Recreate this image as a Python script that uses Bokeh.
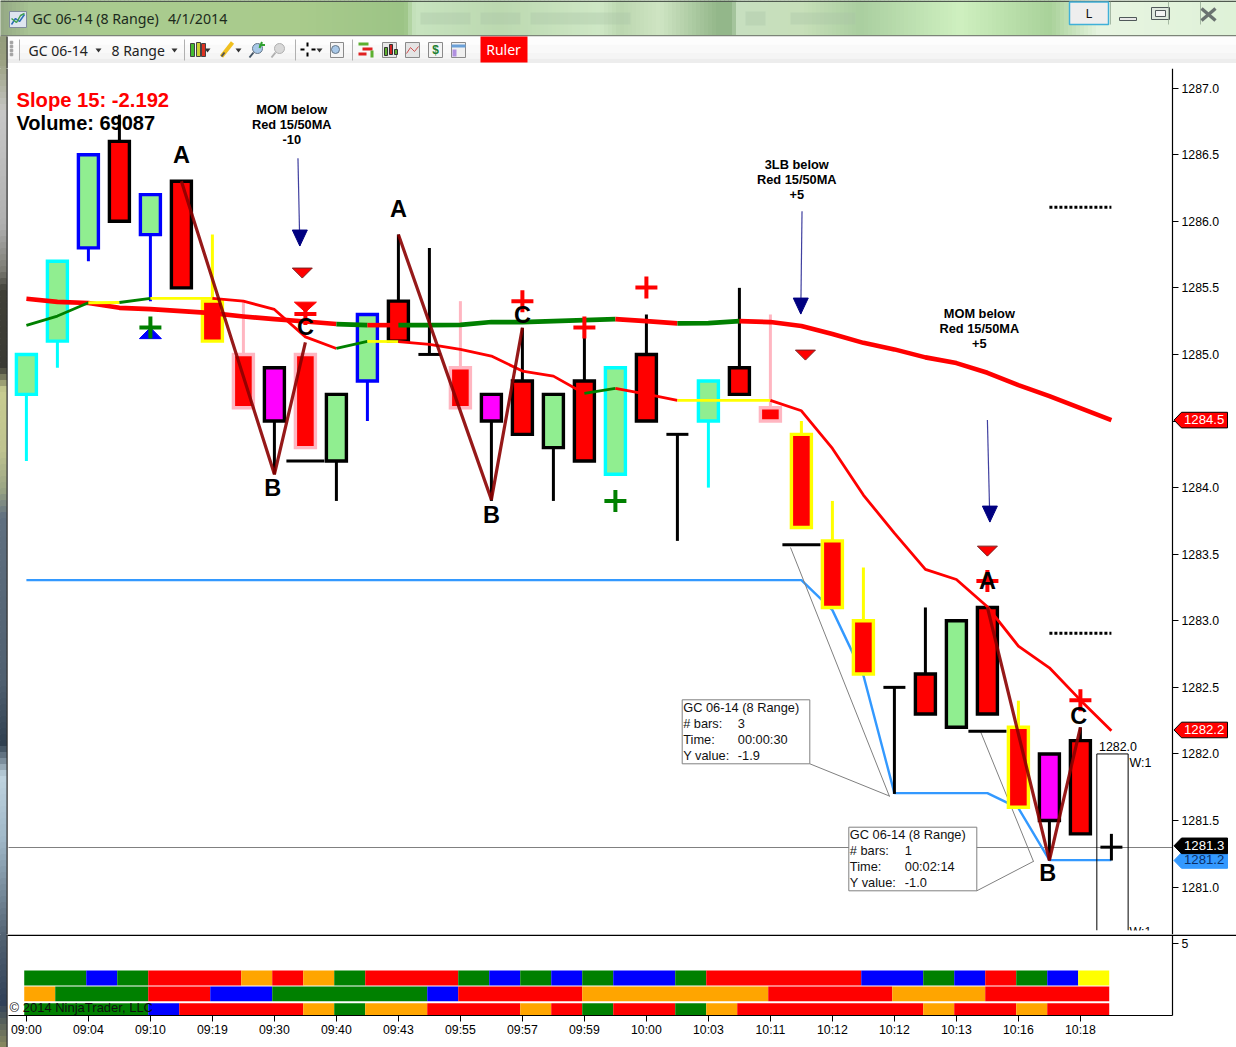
from bokeh.plotting import figure
from bokeh.layouts import column
from bokeh.embed import file_html
from bokeh.resources import INLINE
from bokeh.core.properties import value
from bokeh.models import Range1d, LinearAxis, FixedTicker, PrintfTickFormatter
import numpy as np

# ---------- data ----------
opens = [1284.7,1285.1,1285.8,1286.6,1285.9,1286.3,1285.4,1285.0,1284.9,1285.0,1284.2,1284.8,1285.4,1285.0,1284.9,1284.7,1284.8,1284.3,1284.8,1284.1,1285.0,1284.4,1284.5,1284.9,1284.6,1284.4,1283.6,1283.0,1282.5,1282.6,1282.2,1283.1,1282.2,1282.0,1282.1,1281.3]
closes = [1285.0,1285.7,1286.5,1286.0,1286.2,1285.5,1285.1,1284.6,1284.5,1284.3,1284.7,1285.3,1285.1,1285.0,1284.6,1284.5,1284.4,1284.7,1284.2,1284.9,1284.5,1284.4,1284.8,1284.7,1284.5,1283.7,1283.1,1282.6,1282.5,1282.3,1283.0,1282.3,1281.6,1281.5,1281.4,1281.3]
highs = [1285.0,1285.7,1286.5,1286.8,1286.2,1286.3,1285.9,1285.4,1284.9,1285.0,1284.7,1285.3,1285.9,1285.8,1285.4,1284.7,1285.2,1284.7,1285.2,1284.9,1285.3,1284.4,1284.8,1285.5,1285.3,1284.5,1283.9,1283.4,1282.5,1283.1,1283.0,1283.1,1282.4,1282.0,1282.2,1281.4]
lows = [1284.2,1284.9,1285.7,1286.0,1285.4,1285.5,1285.1,1284.6,1284.1,1284.3,1283.9,1284.5,1285.1,1285.0,1284.6,1283.9,1284.4,1283.9,1284.2,1284.1,1284.5,1283.6,1284.0,1284.7,1284.5,1283.7,1283.1,1282.6,1281.7,1282.3,1282.2,1282.3,1281.6,1281.2,1281.4,1281.2]
body_kinds = list("GGGRGRRRMRGGRRRMRGRGRRGRRRRRRRGRRMRR")
edge_kinds = list("ccbkbkypkpkbkkpkkkkckkckpyyykkkkykkk")

ma50 = [1285.418,1285.395,1285.386,1285.35,1285.34,1285.325,1285.31,1285.285,1285.265,1285.247,1285.228,1285.22,1285.22,1285.22,1285.222,1285.243,1285.243,1285.25,1285.258,1285.265,1285.25,1285.233,1285.235,1285.25,1285.243,1285.213,1285.153,1285.087,1285.038,1284.978,1284.935,1284.862,1284.77,1284.687,1284.597,1284.507]
ma50_kinds = list("RRRRRRRRRRGRGGGGGGGRRGGRRRRRRRRRRRR")
ma15 = [1285.218,1285.288,1285.388,1285.39,1285.421,1285.421,1285.421,1285.4,1285.338,1285.132,1285.045,1285.098,1285.096,1285.075,1285.038,1284.988,1284.875,1284.837,1284.707,1284.745,1284.702,1284.655,1284.655,1284.655,1284.655,1284.577,1284.294,1283.944,1283.658,1283.386,1283.31,1283.105,1282.81,1282.647,1282.404,1282.174]
ma15_kinds = list("GGYGYYRRRRGYRRRRRRGRRYYYRRRRRRRRRRR")
blue_idx = [0,25,26,27,28,31,32,33,35]
blue_val = [1283.305,1283.305,1283.08,1282.59,1281.706,1281.706,1281.593,1281.203,1281.203]

zz_idx = [[5,8,9],[12,15,16],[31,33,34]]
zz_val = [[1286.30,1284.10,1285.09],[1285.9,1283.91,1285.2],[1283.1,1281.2,1282.2]]

letters = ["A","B","C","A","B","C","A","B","C"]
letter_idx = [5,7.95,9,12,15,16,31,32.95,33.95]
letter_val = [1286.497,1283.996,1285.205,1286.091,1283.794,1285.295,1283.298,1281.105,1282.284]

red_cross_idx = [9,16,18,20,31,34]
red_cross_val = [1285.303,1285.4,1285.203,1285.503,1283.298,1282.404]
green_cross_idx = [4,19]
green_cross_val = [1285.203,1283.899]
red_tri_idx = [8.9,25.13,31]
red_tri_val = [1285.611,1284.995,1283.523]
red_big_tri_idx = [9]
red_big_tri_val = [1285.355]
blue_tri_idx = [4]
blue_tri_val = [1285.16]
arrow_x0 = [8.76,25.02,31.0]
arrow_y0 = [1286.474,1286.076,1284.507]
arrow_x1 = [8.82,24.98,31.08]
arrow_y1 = [1285.814,1285.303,1283.741]
dotted_val = [1286.106,1282.907]
ruler_tick_idx = [9,25,31]
ruler_tick_val = [1284.2,1283.57,1282.17]
notes = [["MOM below","Red 15/50MA","-10"],["3LB below","Red 15/50MA","+5"],["MOM below","Red 15/50MA","+5"]]
note_idx = [8.56,24.85,30.74]
note_val = [1286.84,1286.43,1285.31]

row1 = list("GGBGRRRORO") + list("GRRRGBGBGBB") + list("GRRRRRBBGBRGBY")
row2 = list("OGGGRRBBGGGGGBRRRROOOOOORRRROOORRRR")
row3 = list("GGGGBRRRROGOORRRORGRRGORRRRRRORRORR")
tick_labels = ["09:00","09:04","09:10","09:19","09:30","09:40","09:43","09:55","09:57","09:59","10:00","10:03","10:11","10:12","10:12","10:13","10:16","10:18"]
price_ticks = [1281.0,1281.5,1282.0,1282.5,1283.0,1283.5,1284.0,1284.5,1285.0,1285.5,1286.0,1286.5,1287.0]
tag_values = [1284.507,1282.18,1281.2,1281.31]
tag_labels = ["1284.5","1282.2","1281.2","1281.3"]
tag_fills = ["#ff0000","#ff0000","#3399ff","#000000"]
tag_edges = ["#000000","#000000","#3399ff","#000000"]
tag_texts = ["white","white","#0b2f66","white"]

# ---------- styles ----------
FONT = "Liberation Sans"
BODY = {"G":"#90ee90","R":"#ff0000","M":"#ff00ff"}
EDGE = {"c":"#00ffff","b":"#0000ff","k":"#000000","y":"#ffff00","p":"#ffb6c1"}
LINE = {"R":"#ff0000","G":"#008000","Y":"#ffff00"}
CELL = {"G":"#008000","B":"#0000ff","R":"#ff0000","O":"#ffa500","Y":"#ffff00"}
PPU = 133.17   # pixels per price unit
BAR = 31.0     # pixels per bar
X0 = 25.9      # page x of bar 0
Y0 = 87.6      # page y of price 1287

def xpx(x):  # page pixel to bar index (layout of callouts)
    return (x - X0) / BAR
def ypx(y):  # page pixel to price (layout of callouts)
    return 1287.0 - (y - Y0) / PPU

def txt(p, x, y, t, size, color="black", style="normal", align="left", font=FONT, level="glyph"):
    return p.text(x=[x], y=[y], text=[t], text_font=value(font), text_font_size=f"{size}px",
                  text_color=color, text_font_style=style, text_align=align,
                  text_baseline="middle", level=level)

def tri(p, xs, ys, w, h, color, up=False, line=None):
    xx, yy = [], []
    for a, b in zip(xs, ys):
        dx = w / 2 / BAR
        dy = h / 2 / PPU
        s = 1 if up else -1
        xx.append([a - dx, a + dx, a])
        yy.append([b - s * dy, b - s * dy, b + s * dy])
    p.patches(xx, yy, fill_color=color, line_color=line or color, line_width=1)

def runs(xs, ys, kinds):
    xx, yy, cc = [], [], []
    i = 0
    while i < len(kinds):
        j = i
        while j + 1 < len(kinds) and kinds[j + 1] == kinds[i]:
            j += 1
        xx.append(xs[i:j + 2]); yy.append(ys[i:j + 2]); cc.append(LINE[kinds[i]])
        i = j + 1
    return xx, yy, cc

def cell_runs(row):
    out = []
    i = 0
    while i < len(row):
        j = i
        while j + 1 < len(row) and row[j + 1] == row[i]:
            j += 1
        out.append((i, j + 1, CELL[row[i]]))
        i = j + 1
    return out

STRIP = [(0,"#8a9878"),(60,"#9aa080"),(114,"#c8c8c8"),(225,"#b0b0b0"),(270,"#7c7c74"),(290,"#404038"),(367,"#3a3a34"),(390,"#c8cc90"),(450,"#c0c490"),(490,"#9aa484"),(517,"#607080"),(680,"#506070"),(744,"#304050"),(776,"#c0d4e0"),(840,"#a0b8c8"),(940,"#506070"),(1003,"#304058"),(1047,"#8a8a60")]
def hexrgb(h):
    return np.array([int(h[i:i+2],16) for i in (1,3,5)],float)
def ramp(stops, a, b, step):
    pos = [s[0] for s in stops]
    rgb = np.array([hexrgb(s[1]) for s in stops])
    edges = np.arange(a, b, step)
    out = []
    for e in edges:
        c = [int(np.interp(e + step/2, pos, rgb[:,k])) for k in range(3)]
        out.append((e, e + step, "#%02x%02x%02x" % tuple(c)))
    return out
def left_strip(p, a, b, tx, ty):
    seg = ramp(STRIP, a, b, 6)
    p.quad(left=[tx(0)]*len(seg), right=[tx(6)]*len(seg),
           top=[ty(s[0]) for s in seg], bottom=[ty(s[1]) for s in seg],
           fill_color=[s[2] for s in seg], line_color=[s[2] for s in seg], level="overlay")
    p.quad(left=[tx(6)], right=[tx(7.2)], top=[ty(a)], bottom=[ty(b)],
           fill_color="#2a2a2a", line_color=None, level="overlay")

def base(p):
    p.grid.visible = False
    p.outline_line_color = None
    p.background_fill_color = "white"
    p.border_fill_color = "white"
    return p

def style_axis(a):
    a.major_tick_line_color = "black"; a.major_tick_out = 6; a.major_tick_in = 0
    a.minor_tick_line_color = None; a.axis_line_color = "black"; a.axis_line_width = 1.2
    a.major_label_text_font = FONT; a.major_label_text_font_size = "12.3px"; a.major_label_text_color = "black"

# ---------- window chrome ----------
ch = base(figure(frame_width=1236, frame_height=68, min_border=0, toolbar_location=None, output_backend="svg",
                 x_range=Range1d(0,1236), y_range=Range1d(68,0)))
ch.xaxis.visible = False
ch.yaxis.visible = False
TITLE = [(0,"#94a884"),(30,"#a8c494"),(100,"#aacb90"),(300,"#a9cb8c"),(405,"#9cc486"),(415,"#c8e4c0"),(500,"#bcd9b0"),(600,"#cfe8c6"),(620,"#bcd7b0"),(660,"#cfe5c3"),(718,"#93b78a"),(732,"#93b78a"),(738,"#c7dfc0"),(800,"#c8e0ba"),(860,"#aacfa0"),(960,"#cff0c0"),(1050,"#a9d29a"),(1100,"#e8f5e2"),(1236,"#dff2d8")]
seg = ramp(TITLE, 0, 1236, 4)
ch.quad(left=[s[0] for s in seg], right=[s[1] for s in seg], top=[0]*len(seg), bottom=[35]*len(seg),
        fill_color=[s[2] for s in seg], line_color=[s[2] for s in seg])
ch.quad(left=[0], right=[1236], top=[0], bottom=[1.5], fill_color="#505a50", line_color=None)
ch.quad(left=[420,480,530,745,790], right=[470,520,630,765,855], top=[12,12,12,11,12], bottom=[24,24,24,25,24],
        fill_color="#a9c4a6", line_color=None, fill_alpha=0.35)
ch.quad(left=[0], right=[1236], top=[34.5], bottom=[36], fill_color="#7c8478", line_color=None)
for a, b, c in [(36,44,"#fdfdfd"),(44,52,"#f9f9f9"),(52,58,"#f5f5f5"),(58,62.5,"#ededed")]:
    ch.quad(left=[6], right=[1236], top=[a], bottom=[b], fill_color=c, line_color=None)
# title icon and captions
ch.quad(left=[9], right=[26], top=[11], bottom=[27], fill_color="#dfe6f0", line_color="#7f8c9c")
ch.line([11,15,19,24],[24,18,21,14], line_color="#2e6fb8", line_width=1.5)
ch.line([11,16,20,24],[18,22,15,13], line_color="#3f9f4f", line_width=1.5)
txt(ch, 32, 18, "GC 06-14 (8 Range)", 14.2, "#1c2a1c", font="Noto Sans")
txt(ch, 167.5, 18, "4/1/2014", 14.2, "#1c2a1c", font="Noto Sans")
# caption buttons
ch.quad(left=[1069], right=[1108], top=[1.5], bottom=[24], fill_color="#eeeeee", line_color="#40b0d8", line_width=1.5)
txt(ch, 1088.5, 12, "L", 13, "#111111", align="center", font="Noto Sans")
ch.quad(left=[1119], right=[1136], top=[17], bottom=[20], fill_color="#e8e8e8", line_color="#50585a")
ch.quad(left=[1151], right=[1169], top=[7], bottom=[19], fill_color="#dfe8df", line_color="#50585a")
ch.quad(left=[1155], right=[1165], top=[10], bottom=[16], fill_color="#f2f2f2", line_color="#50585a")
ch.segment([1201,1201],[8,20],[1215,1215],[20,8], line_color="#6a7270", line_width=3.4)
ch.segment([1110,1168,1200],[1,1,1],[1110,1168,1200],[24,24,24], line_color="#8aa08a", line_width=1, line_alpha=0.7)
# toolbar
ch.scatter(x=[11,11,11,11], y=[42,46,50,54], marker="square", size=2.5, color="#a0a0a0")
ch.segment([19,184,295,352],[39]*4,[19,184,295,352],[60]*4, line_color="#b0b0b0", line_width=1)
txt(ch, 28, 49.5, "GC 06-14", 14, "#222222", font="Noto Sans")
txt(ch, 111, 49.5, "8 Range", 14, "#222222", font="Noto Sans")
drop_x = [98,174,207,238,319]
ch.patches([[a-3,a+3,a] for a in drop_x], [[48,48,52]]*5, fill_color="#333333", line_color=None)
ch.quad(left=[190,196,201], right=[194,200,205], top=[43,42,43], bottom=[56,56,56],
        fill_color=["#44bb33","#ccd033","#dd3322"], line_color="#444444")
ch.segment([221],[56],[232],[42], line_color="#f0c020", line_width=4)
ch.segment([221],[56],[224],[52], line_color="#555555", line_width=2)
ch.scatter(x=[257,279], y=[48,48], marker="circle", size=10, fill_color=["#a8c8e8","#d8d8d8"], line_color=["#667788","#b0b0b0"])
ch.segment([249,271],[57,57],[253,275],[52,52], line_color=["#445566","#b0b0b0"], line_width=2)
ch.segment([259,259],[44.5,47.5],[264.5,261.5],[44.5,41.5], line_color="#30a030", line_width=2)
ch.segment([300,307,307,311],[49,42,52,49],[304,307,307,315],[49,46,56,49], line_color="black", line_width=2)
for a, c in [(336,"#f4f4f4"),(389,"#e8e8e8"),(412,"#e4e4e4"),(435,"#f4f4f4"),(458,"#f0f0f0")]:
    ch.quad(left=[a-7 if a!=336 else a-6], right=[a+7 if a!=336 else a+7], top=[42], bottom=[57], fill_color=c, line_color="#8a8a8a")
ch.scatter(x=[335], y=[49], marker="circle", size=8, fill_color="#a8c8e8", line_color="#667788")
ch.quad(left=[358,362,358], right=[368,372,366], top=[42,47,52], bottom=[45,50,55], fill_color=["#5cb030","#e02020","#e02020"], line_color=None)
ch.quad(left=[370], right=[373], top=[50], bottom=[57], fill_color="#5cb030", line_color=None)
ch.quad(left=[384,389,394], right=[387,392,397], top=[47,44,49], bottom=[55,54,54], fill_color=["#5cb030","#d02020","#5cb030"], line_color="#333333")
ch.line([406,410,414,418],[53,47,51,46], line_color="#d05050", line_width=1)
ch.quad(left=[451], right=[465], top=[44], bottom=[47], fill_color="#6aa0d8", line_color=None)
ch.quad(left=[452], right=[456], top=[49], bottom=[56], fill_color="#b090e0", line_color=None)
txt(ch, 435, 49.5, "$", 12, "#208030", "bold", "center")
ch.quad(left=[480], right=[527], top=[36], bottom=[62], fill_color="#ff0000", line_color=None)
txt(ch, 503, 49, "Ruler", 14, "white", align="center", font="Noto Sans")
left_strip(ch, 36, 68, lambda v: v, lambda v: v)

# ---------- price panel ----------
p = base(figure(frame_width=1236, frame_height=866, min_border=0,
                toolbar_location=None, output_backend="svg",
                x_range=Range1d(xpx(0), xpx(1236)), y_range=Range1d(ypx(934), ypx(68))))
p.xaxis.visible = False
p.yaxis.visible = False
ax = LinearAxis(ticker=FixedTicker(ticks=price_ticks), formatter=PrintfTickFormatter(format="%.1f"),
                fixed_location=xpx(1172))
style_axis(ax)
ax.major_label_standoff = 3
p.add_layout(ax, "right")

n = len(opens)
idx = list(range(n))

txt(p, xpx(16), ypx(99.5), "Slope 15: -2.192", 20.2, "#ff0000", "bold")
txt(p, xpx(16), ypx(122.5), "Volume: 69087", 20, "black", "bold")

# crosshair, blue line, ruler outlines
p.segment([xpx(8)],[ypx(847)],[xpx(1172)],[ypx(847)], line_color="#808080", line_width=1)
p.line(blue_idx, blue_val, line_color="#3399ff", line_width=2.4)
p.segment([xpx(790),xpx(980)],[ypx(547),ypx(731)],[xpx(889),xpx(1033)],[ypx(796),ypx(861)], line_color="#808080", line_width=1)
p.segment([34.53,35.54,34.53],[1282.0,1282.0,1282.0],[34.53,35.54,35.54],[ypx(930),ypx(930),1282.0], line_color="black", line_width=1)

# bars
p.segment(idx, highs, idx, lows, line_color=[EDGE[k] for k in edge_kinds], line_width=3)
solid = [i for i in idx if opens[i] != closes[i]]
p.vbar(x=solid, width=20/BAR, top=[max(opens[i],closes[i]) for i in solid], bottom=[min(opens[i],closes[i]) for i in solid],
       fill_color=[BODY[body_kinds[i]] for i in solid], line_color=[EDGE[edge_kinds[i]] for i in solid], line_width=3.4, line_join="miter")
dojis = [i for i in idx if opens[i] == closes[i]]
hw = 11 / BAR
p.segment([i-hw for i in dojis],[opens[i] for i in dojis],[i+hw for i in dojis],[opens[i] for i in dojis], line_color="black", line_width=3)
rw = 19 / BAR
p.segment([i-rw for i in ruler_tick_idx], ruler_tick_val, [i+rw for i in ruler_tick_idx], ruler_tick_val, line_color="black", line_width=3)

# moving averages
xx, yy, cc = runs(idx, ma50, ma50_kinds)
p.multi_line(xx, yy, line_color=cc, line_width=4.6, line_join="round")
xx, yy, cc = runs(idx, ma15, ma15_kinds)
p.multi_line(xx, yy, line_color=cc, line_width=2.8, line_join="round")

# markers
tri(p, red_tri_idx, red_tri_val, 20, 10, "#ff0000", line="#7a2020")
tri(p, red_big_tri_idx, red_big_tri_val, 22, 10, "#ff0000")
tri(p, blue_tri_idx, blue_tri_val, 22, 11, "#0000ff", up=True)
p.scatter(red_cross_idx, red_cross_val, marker="cross", size=22, line_color="#ff0000", line_width=4)
p.scatter(green_cross_idx, green_cross_val, marker="cross", size=22, line_color="#008000", line_width=4)
p.segment(arrow_x0, arrow_y0, arrow_x1, arrow_y1, line_color="#000080", line_width=1.2, line_alpha=0.75)
tri(p, arrow_x1, [v + 8/PPU for v in arrow_y1], 15, 16, "#000080")

# zigzag
p.multi_line(zz_idx, zz_val, line_color="#8b0000", line_width=3.2, line_alpha=0.9)

# letters
for t, a, b in zip(letters, letter_idx, letter_val):
    txt(p, a, b, t, 23.5, "black", "bold", "center")

# notes
for lines, a, b in zip(notes, note_idx, note_val):
    for k, t in enumerate(lines):
        txt(p, a, b - k * 15 / PPU, t, 12.8, "black", "bold", "center")

# dotted levels
p.multi_line([[33,35]]*2, [[v,v] for v in dotted_val], line_color="black", line_width=3, line_dash="3 2")

# ruler labels
txt(p, xpx(1098.5), ypx(746), "1282.0", 12.4)
txt(p, xpx(1129), ypx(762), "W:1", 12.4)
txt(p, xpx(1129), ypx(931.3), "W:1", 12.4)
p.quad(left=[xpx(1090)], right=[xpx(1171)], top=[ypx(930)], bottom=[ypx(934)], fill_color="white", line_color=None)

# tooltips
for bx0, bx1, by0, by1, lead, rows, col2 in [
    (681.7, 809.3, 699.3, 763.3, (809.3,763.3,889.3,795.7), [("GC 06-14 (8 Range)",""),("# bars:","3"),("Time:","00:00:30"),("Y value:","-1.9")], 737.3),
    (848.3, 976.3, 826.7, 890.3, (976.3,890.3,1033.3,860.7), [("GC 06-14 (8 Range)",""),("# bars:","1"),("Time:","00:02:14"),("Y value:","-1.0")], 904.3)]:
    p.quad(left=[xpx(bx0)], right=[xpx(bx1)], top=[ypx(by0)], bottom=[ypx(by1)], fill_color="white", line_color="#808080", line_width=1)
    p.segment([xpx(lead[0])],[ypx(lead[1])],[xpx(lead[2])],[ypx(lead[3])], line_color="#808080", line_width=1)
    for k, (a, b) in enumerate(rows):
        y = by0 + 7.3 + k * 16
        txt(p, xpx(bx0 + 1), ypx(y), a, 12.8, "#111111")
        if b:
            txt(p, xpx(col2), ypx(y), b, 12.8, "#111111")

left_strip(p, 68, 934, xpx, ypx)

# price tags at the axis
h = 7.8 / PPU
for val, lab, fill, edge, tc in zip(tag_values, tag_labels, tag_fills, tag_edges, tag_texts):
    p.patch([xpx(1173.5),xpx(1181),xpx(1227),xpx(1227),xpx(1181)],
            [val, val+h, val+h, val-h, val-h],
            fill_color=fill, line_color=edge, line_width=1, level="overlay")
    txt(p, xpx(1183.5), val + 0.5/PPU, lab, 13.2, tc, level="overlay")

# ---------- lower panel ----------
SCALE5 = 14.4  # pixels per unit of the lower scale
q = base(figure(frame_width=1236, frame_height=113, min_border=0,
                toolbar_location=None, output_backend="svg",
                x_range=Range1d(xpx(0), xpx(1236)), y_range=Range1d(-32/SCALE5, 81/SCALE5)))
q.yaxis.visible = False
q.xaxis.visible = False
bx = LinearAxis(ticker=FixedTicker(ticks=list(range(0,35,2))),
                major_label_overrides={i*2: t for i, t in enumerate(tick_labels)},
                bounds=(xpx(8), xpx(1172)), fixed_location=0)
style_axis(bx)
bx.major_label_standoff = 1
q.add_layout(bx, "below")
ay = LinearAxis(ticker=FixedTicker(ticks=[5]), major_label_overrides={5: "5"}, fixed_location=xpx(1172),
                bounds=(0, 81/SCALE5))
style_axis(ay)
ay.major_label_standoff = 3
q.add_layout(ay, "right")
CELL_SHIFT = 0.43  # the colour cells sit just right of their bars
for row, y0, y1 in [(row1, 2.08, 3.125), (row2, 0.99, 2.01), (row3, 0.0, 0.85)]:
    cells = cell_runs(row)
    q.quad(left=[a - 0.5 + CELL_SHIFT for a, b, c in cells], right=[b - 0.5 + CELL_SHIFT for a, b, c in cells],
           bottom=y0, top=y1, fill_color=[c for a, b, c in cells], line_color=None)
txt(q, xpx(9), (1015-1007)/SCALE5, "\u00a9 2014 NinjaTrader, LLC", 13, "#111111")
q.quad(left=[xpx(7)], right=[xpx(1236)], top=[81/SCALE5], bottom=[(1015-935.4)/SCALE5], fill_color="black", line_color=None)
left_strip(q, 934, 1047, xpx, lambda v: (1015 - v) / SCALE5)

root = column(ch, p, q, spacing=0, styles={"position": "absolute", "left": "0px", "top": "0px"})
open("out.html", "w").write(file_html(root, INLINE))
